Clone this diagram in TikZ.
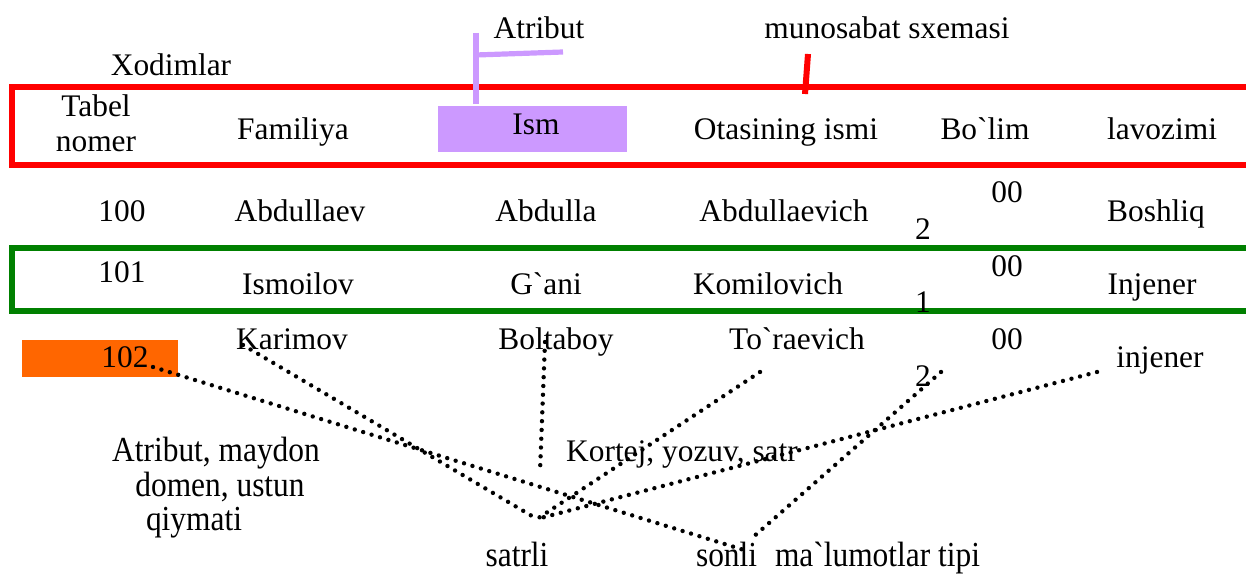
\documentclass[tikz,border=0pt]{standalone}
\usepackage{graphicx}
\usepackage{fontspec}
\setmainfont{Liberation Serif}
\newfontfamily\uzfont{Liberation Serif}
\usepackage{xcolor}
\definecolor{tableRed}{RGB}{255, 0, 0}
\definecolor{rowGreen}{RGB}{0, 128, 0}
\definecolor{attrLilac}{RGB}{204, 153, 255}
\definecolor{keyOrange}{RGB}{255, 102, 0}
\newcommand{\tallText}[1]{\scalebox{1}[1.12]{#1}}

\begin{document}
\begin{tikzpicture}[x=0.5pt, y=-0.5pt]
            \tikzstyle{cell} = [anchor=base, inner sep=0pt, font=\uzfont\fontsize{15.7}{17.5}\selectfont]
            \tikzstyle{frame} = [line width=3pt]
            \tikzstyle{marker} = [line width=2.6pt]
            \tikzstyle{dotline} = [line width=2.2pt, line cap=round, dash pattern=on 0pt off 4.4pt]

            \clip (0,0) rectangle (1246,576);

            % Relation frame, selected row, key and attribute
            \draw[frame, tableRed] (12,87) rectangle (1275,165);
            \draw[frame, rowGreen] (12,248) rectangle (1275,311);
            \fill[attrLilac] (438,106) rectangle (627,152);
            \fill[keyOrange] (22,340) rectangle (178,377);
            \draw[marker, attrLilac] (476,33) -- (476,104);
            \draw[marker, attrLilac] (476,55) -- (563,52);
            \draw[marker, line width=3pt, tableRed] (808,54) -- (805,94);

            % Titles
            \node[cell] (xodim) at (171,76) {Xodimlar};
            \node[cell] (atrTitle) at (539,39) {Atribut};
            \node[cell] (munTitle) at (887,39) {munosabat sxemasi};

            % Header
            \node[cell] (hTab1) at (96,117) {Tabel};
            \node[cell] (hTab2) at (96,152) {nomer};
            \node[cell] (hFam) at (293,140) {Familiya};
            \node[cell] (hIsm) at (536,135) {Ism};
            \node[cell] (hOta) at (786,140) {Otasining ismi};
            \node[cell] (hBol) at (985,140) {Bo`lim};
            \node[cell] (hLav) at (1162,140) {lavozimi};

            % Row 100
            \node[cell] (a1) at (122,222) {100};
            \node[cell] (a2) at (300,222) {Abdullaev};
            \node[cell] (a3) at (546,222) {Abdulla};
            \node[cell] (a4) at (784,222) {Abdullaevich};
            \node[cell] (a5) at (1007,203) {00};
            \node[cell] (a5b) at (923,240) {2};
            \node[cell] (a6) at (1156,222) {Boshliq};

            % Row 101
            \node[cell] (b1) at (122,283) {101};
            \node[cell] (b2) at (298,295) {Ismoilov};
            \node[cell] (b3) at (546,295) {G`ani};
            \node[cell] (b4) at (768,295) {Komilovich};
            \node[cell] (b5) at (1007,277) {00};
            \node[cell] (b5b) at (923,313) {1};
            \node[cell] (b6) at (1152,295) {Injener};

            % Row 102
            \node[cell] (c1) at (125,368) {102};
            \node[cell] (c2) at (292,350) {Karimov};
            \node[cell] (c3) at (556,350) {Boltaboy};
            \node[cell] (c4) at (797,350) {To`raevich};
            \node[cell] (c5) at (1007,350) {00};
            \node[cell] (c5b) at (923,387) {2};
            \node[cell] (c6) at (1160,368) {injener};

            % Notes
            \node[cell] (note1) at (216,462) {\tallText{Atribut, maydon}};
            \node[cell] (note2) at (220,496) {\tallText{domen, ustun}};
            \node[cell] (note3) at (194,530) {\tallText{qiymati}};
            \node[cell] (kortej) at (682,462) {Kortej, yozuv, satr};
            \node[cell] (satrli) at (517,566) {\tallText{satrli}};
            \node[cell] (sonli) at (838,566) {\tallText{sonli\hspace{0.57em}ma`lumotlar tipi}};

            % Dotted pointers
            \coordinate (p102) at (153,367);
            \coordinate (pKar) at (243,345);
            \coordinate (pBolTop) at (545,342);
            \coordinate (pBolEnd) at (540,472);
            \coordinate (pTor) at (760,372);
            \coordinate (pTwo) at (941,372);
            \coordinate (pInj) at (1097,372);
            \coordinate (satrEnd) at (537,519);
            \coordinate (sonEndA) at (744,550);
            \coordinate (sonEndB) at (752,538);

            \draw[dotline] (p102) -- (sonEndA);
            \draw[dotline] (pKar) -- (satrEnd);
            \draw[dotline] (pBolTop) -- (pBolEnd);
            \draw[dotline] (pTor) -- (satrEnd);
            \draw[dotline] (pTwo) -- (sonEndB);
            \draw[dotline] (pInj) -- (satrEnd);
        \end{tikzpicture}
\end{document}
